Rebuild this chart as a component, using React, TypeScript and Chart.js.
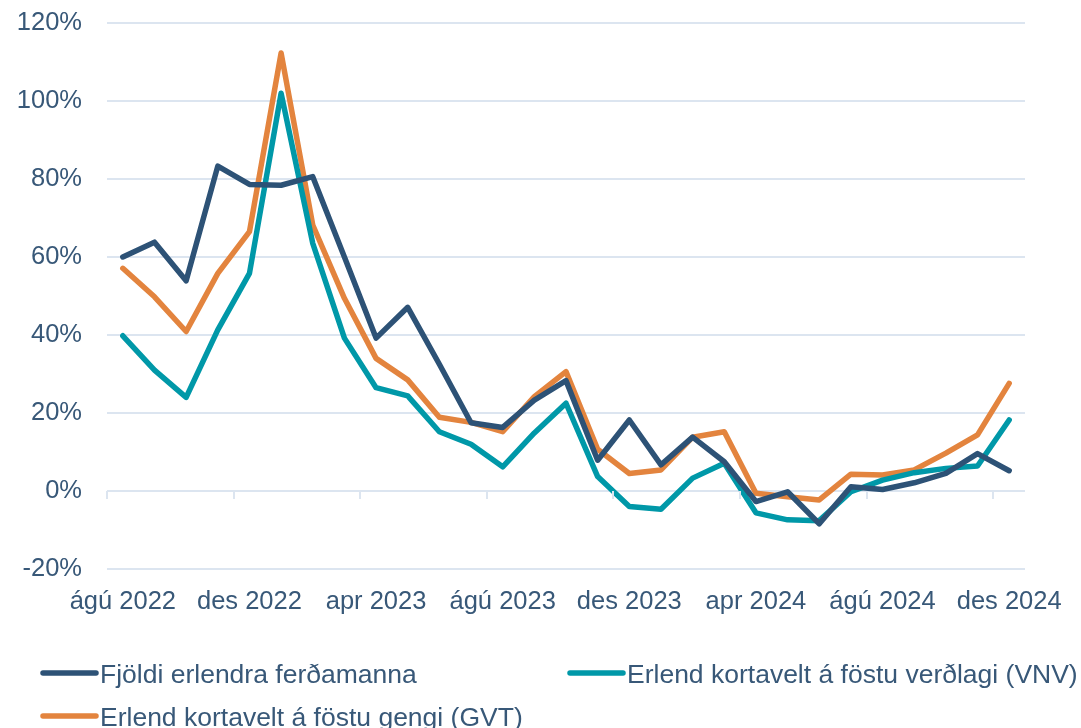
import React, { useEffect, useRef } from "react";
import { Chart, registerables } from "chart.js";

Chart.register(...registerables);

const months = [
  "ágú 2022", "sep 2022", "okt 2022", "nóv 2022", "des 2022",
  "jan 2023", "feb 2023", "mar 2023", "apr 2023", "maí 2023", "jún 2023", "júl 2023",
  "ágú 2023", "sep 2023", "okt 2023", "nóv 2023", "des 2023",
  "jan 2024", "feb 2024", "mar 2024", "apr 2024", "maí 2024", "jún 2024", "júl 2024",
  "ágú 2024", "sep 2024", "okt 2024", "nóv 2024", "des 2024",
];

const fjoldi = [
  60.0, 63.8, 53.9, 83.3, 78.6, 78.4, 80.6, 60.0, 39.2, 47.1, 32.5, 17.5,
  16.3, 23.3, 28.3, 7.9, 18.2, 6.7, 13.8, 7.5, -2.7, -0.2, -8.4,
  1.1, 0.4, 2.1, 4.5, 9.6, 5.2,
];

const vnv = [
  39.8, 31.0, 24.0, 41.3, 55.8, 102.0, 63.5, 39.2, 26.5, 24.4, 15.2, 12.0,
  6.2, 14.9, 22.5, 3.7, -4.0, -4.7, 3.3, 7.1, -5.6, -7.4, -7.6,
  -0.2, 2.8, 4.7, 5.8, 6.4, 18.2,
];

const gvt = [
  57.1, 49.8, 40.9, 55.8, 66.5, 112.3, 68.2, 49.4, 34.0, 28.5, 18.9, 17.6,
  15.2, 24.2, 30.6, 10.7, 4.5, 5.4, 13.8, 15.2, -0.6, -1.5, -2.3,
  4.3, 4.1, 5.4, 9.7, 14.4, 27.6,
];

const seriesNames = [
  "Fjöldi erlendra ferðamanna",
  "Erlend kortavelt á föstu verðlagi (VNV)",
  "Erlend kortavelt á föstu gengi (GVT)",
];

const NAVY = "#2D5276";
const TEAL = "#0098A8";
const ORANGE = "#E3843E";
const TEXT = "#385878";
const GRID = "#DCE5F0";
const FONT = "Arial, 'Liberation Sans', sans-serif";

const tickMarksPlugin = {
  id: "tickMarks",
  afterDraw(chart: any) {
    const x = chart.scales.x;
    const y = chart.scales.y;
    const ctx = chart.ctx;
    const n = chart.data.labels.length;
    const w = (x.right - x.left) / n;
    const y0 = y.getPixelForValue(0);
    ctx.save();
    ctx.strokeStyle = GRID;
    ctx.lineWidth = 2;
    ctx.beginPath();
    for (let i = 0; i <= n; i += 4) {
      const px = Math.round(x.left + i * w);
      ctx.moveTo(px, y0);
      ctx.lineTo(px, y0 + 8);
    }
    ctx.stroke();
    ctx.restore();
  },
};

const legendPlugin = {
  id: "customLegend",
  afterDraw(chart: any) {
    const ctx = chart.ctx;
    const h = chart.height;
    const spots = [
      { x: 41, y: h - 45 },
      { x: 568, y: h - 45 },
      { x: 41, y: h - 2 },
    ];
    ctx.save();
    chart.data.datasets.forEach((ds: any, i: number) => {
      const s = spots[i];
      ctx.strokeStyle = ds.borderColor;
      ctx.lineWidth = 5.5;
      ctx.lineCap = "round";
      ctx.beginPath();
      ctx.moveTo(s.x + 2, s.y - 10);
      ctx.lineTo(s.x + 55, s.y - 10);
      ctx.stroke();
      ctx.fillStyle = TEXT;
      ctx.font = `26.5px ${FONT}`;
      ctx.textBaseline = "alphabetic";
      ctx.textAlign = "left";
      ctx.fillText(ds.label, s.x + 59, s.y);
    });
    ctx.restore();
  },
};

export default function App() {
  const ref = useRef<HTMLCanvasElement>(null);

  useEffect(() => {
    if (!ref.current) return;
    const mk = (label: string, data: number[], color: string) => ({
      label,
      data,
      borderColor: color,
      backgroundColor: color,
      borderWidth: 5.5,
      pointRadius: 0,
      tension: 0,
      borderJoinStyle: "round" as const,
      borderCapStyle: "round" as const,
    });
    const chart = new Chart(ref.current, {
      type: "line",
      data: {
        labels: months,
        datasets: [
          mk(seriesNames[0], fjoldi, NAVY),
          mk(seriesNames[1], vnv, TEAL),
          mk(seriesNames[2], gvt, ORANGE),
        ],
      },
      options: {
        responsive: false,
        animation: false,
        layout: { padding: { top: 23, right: 56, bottom: 109, left: 0 } },
        plugins: {
          legend: { display: false },
          tooltip: { enabled: false },
        },
        scales: {
          x: {
            type: "category",
            offset: true,
            grid: { display: false, drawTicks: false },
            border: { display: false },
            afterFit(scale: any) {
              scale.height = 50;
              scale.paddingLeft = 0;
              scale.paddingRight = 0;
            },
            ticks: {
              autoSkip: false,
              maxRotation: 0,
              minRotation: 0,
              padding: 18,
              color: TEXT,
              font: { family: FONT, size: 25.5 },
              callback: (_v: any, i: number) => (i % 4 === 0 ? months[i] : ""),
            },
          },
          y: {
            min: -20,
            max: 120,
            afterFit(scale: any) {
              scale.width = 107;
              scale.paddingTop = 0;
              scale.paddingBottom = 0;
            },
            grid: { color: GRID, lineWidth: 2, drawTicks: false },
            border: { display: false },
            ticks: {
              stepSize: 20,
              padding: 25,
              color: TEXT,
              font: { family: FONT, size: 25.5 },
              callback: (v: any) => `${v}%`,
            },
          },
        },
      },
      plugins: [tickMarksPlugin, legendPlugin],
    });
    return () => chart.destroy();
  }, []);

  return (
    <div style={{ position: "fixed", left: 0, top: 0, width: 1081, height: 728, background: "#fff" }}>
      <canvas ref={ref} width={1081} height={728} style={{ width: 1081, height: 728 }} />
    </div>
  );
}
